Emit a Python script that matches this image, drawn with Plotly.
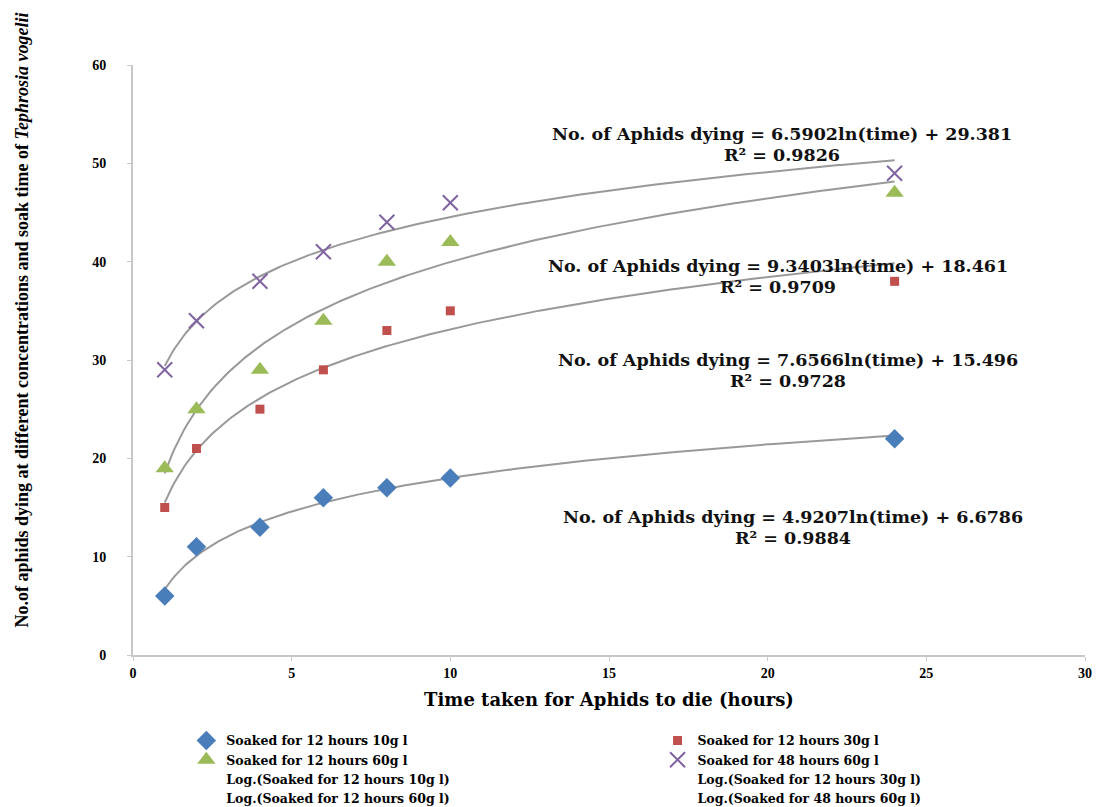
import numpy as np
import plotly.graph_objects as go

# ---- data ----
time_hours = [1, 2, 4, 6, 8, 10, 24]
soak12_10 = [6, 11, 13, 16, 17, 18, 22]
soak12_30 = [15, 21, 25, 29, 33, 35, 38]
soak12_60 = [19, 25, 29, 34, 40, 42, 47]
soak48_60 = [29, 34, 38, 41, 44, 46, 49]

series_names = [
    "Soaked for 12 hours 10g l",
    "Soaked for 12 hours 30g l",
    "Soaked for 12 hours 60g l",
    "Soaked for 48 hours 60g l",
]
# log trendline coefficients (slope, intercept, R2) as printed on the chart
trend_slope = ["4.9207", "7.6566", "9.3403", "6.5902"]
trend_intercept = ["6.6786", "15.496", "18.461", "29.381"]
trend_r2 = ["0.9884", "0.9728", "0.9709", "0.9826"]

x_ticks = [0, 5, 10, 15, 20, 25, 30]
y_ticks = [0, 10, 20, 30, 40, 50, 60]

# ---- styles ----
colors = ["#4A7EBB", "#C0504D", "#9BBB59", "#8064A2"]
symbols = ["diamond", "square", "triangle-up", "x-thin"]
sizes = [15, 9, 16, 15]
legend_of = ["legend", "legend2", "legend", "legend2"]
SERIF = "Liberation Serif"
WIDE = "DejaVu Serif"

# label placement (data units) for each trendline equation
eq_center_x = [20.8, 20.64, 20.33, 20.45]
eq_line1_y = [14.0, 30.0, 39.6, 53.0]

fig = go.Figure()
all_series = [soak12_10, soak12_30, soak12_60, soak48_60]

# trendlines
xs = np.linspace(min(time_hours), max(time_hours), 300)
for a, b in zip(trend_slope, trend_intercept):
    fig.add_trace(go.Scatter(x=xs, y=float(a) * np.log(xs) + float(b), mode="lines",
                             line=dict(color="#999999", width=2),
                             showlegend=False, hoverinfo="skip"))

for name, ys, c, s, sz, lg in zip(series_names, all_series, colors, symbols, sizes, legend_of):
    marker = dict(color=c, symbol=s, size=sz)
    if s == "x-thin":
        marker["line"] = dict(color=c, width=2)
    fig.add_trace(go.Scatter(x=time_hours, y=ys, mode="markers", name=f"<b>{name}</b>",
                             marker=marker, legend=lg))

# legend entries for the log trendlines (no visible sample, as in the reference)
for name, lg in zip(series_names, legend_of):
    fig.add_trace(go.Scatter(x=[None], y=[None], mode="lines", legend=lg,
                             name=f"<b>Log.({name})</b>",
                             line=dict(color="rgba(0,0,0,0)", width=0)))

for cx, ly, a, b, r2 in zip(eq_center_x, eq_line1_y, trend_slope, trend_intercept, trend_r2):
    fig.add_annotation(x=cx, y=ly, xref="x", yref="y", showarrow=False,
                       text=f"<b>No. of Aphids dying = {a}ln(time) + {b}</b>",
                       font=dict(family=WIDE, size=17.5, color="#111111"), xanchor="center",
                       yanchor="middle")
    fig.add_annotation(x=cx, y=ly - 2.15, xref="x", yref="y", showarrow=False,
                       text=f"<b>R² = {r2}</b>",
                       font=dict(family=WIDE, size=17.5, color="#111111"), xanchor="center",
                       yanchor="middle")

# y-axis title as a rotated annotation (paper x is relative to the plot area)
fig.add_annotation(x=-0.117, y=(655 - 320) / 590, xref="paper", yref="paper", showarrow=False,
                   text="<b>No.of aphids dying at different concentrations and soak time of <i>Tephrosia vogelii</i></b>",
                   textangle=-90, font=dict(family=SERIF, size=18, color="black"),
                   xanchor="center", yanchor="middle")

legend_common = dict(orientation="v", yanchor="top", xanchor="left",
                     font=dict(family=WIDE, size=12.5, color="black"),
                     bgcolor="rgba(0,0,0,0)", itemclick=False, tracegroupgap=0)

fig.update_layout(
    width=1099, height=807,
    margin=dict(l=133, r=14, t=65, b=152, autoexpand=False),
    plot_bgcolor="white", paper_bgcolor="white",
    font=dict(family=SERIF, color="black"),
    legend=dict(x=0.056, y=-0.12, **legend_common),
    legend2=dict(x=0.551, y=-0.12, **legend_common),
    showlegend=True,
)
fig.update_xaxes(range=[0, 30], tickvals=x_ticks, ticktext=[f"<b>{v}</b>" for v in x_ticks],
                 showgrid=False, zeroline=False, showline=True, linecolor="#C8C8C8",
                 linewidth=2, ticks="outside", tickcolor="#C8C8C8", ticklen=4,
                 tickfont=dict(family=SERIF, size=14, color="black"),
                 title=dict(text="<b>Time taken for Aphids to die (hours)</b>",
                            font=dict(family=WIDE, size=18, color="black"), standoff=14))
fig.update_yaxes(range=[0, 60], tickvals=y_ticks, ticktext=[f"<b>{v}</b>" for v in y_ticks],
                 showgrid=False, zeroline=False, showline=True, linecolor="#C8C8C8",
                 linewidth=2, ticks="outside", tickcolor="#C8C8C8", ticklen=4,
                 ticklabelstandoff=18,
                 tickfont=dict(family=SERIF, size=14, color="black"))

fig.write_html("out.html")
